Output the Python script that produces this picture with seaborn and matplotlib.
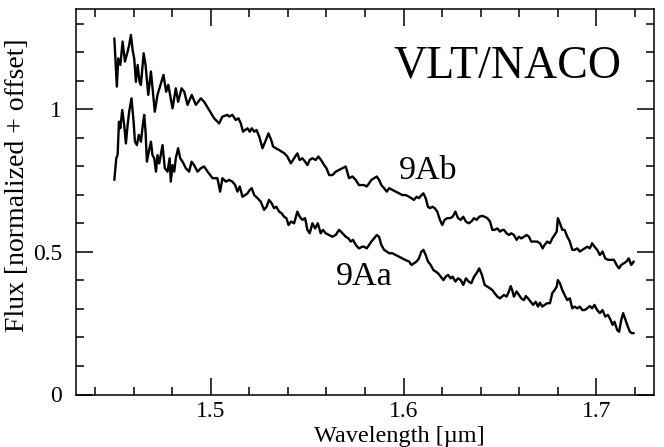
import numpy as np
import pandas as pd
import matplotlib
matplotlib.use("Agg")
import matplotlib.pyplot as plt
import seaborn as sns
from matplotlib.ticker import MultipleLocator

# spectra (wavelength in micron, flux normalized + offset)
wave_ab = [1.4499, 1.4512, 1.4519, 1.4530, 1.4542, 1.4554, 1.4568, 1.4576, 1.4585, 1.4595,
           1.4602, 1.4611, 1.4620, 1.4630, 1.4637, 1.4651, 1.4661, 1.4675, 1.4689, 1.4709,
           1.4723, 1.4754, 1.4768, 1.4779, 1.4801, 1.4818, 1.4830, 1.4848, 1.4862, 1.4879,
           1.4901, 1.4922, 1.4948, 1.4965, 1.4996, 1.5017, 1.5043, 1.5060, 1.5086, 1.5095,
           1.5112, 1.5129, 1.5143, 1.5155, 1.5167, 1.5178, 1.5190, 1.5202, 1.5212, 1.5225,
           1.5237, 1.5251, 1.5268, 1.5282, 1.5299, 1.5313, 1.5323, 1.5337, 1.5354, 1.5368,
           1.5382, 1.5397, 1.5415, 1.5432, 1.5449, 1.5461, 1.5475, 1.5489, 1.5501, 1.5513,
           1.5527, 1.5544, 1.5558, 1.5572, 1.5588, 1.5600, 1.5614, 1.5631, 1.5648, 1.5665,
           1.5683, 1.5700, 1.5717, 1.5735, 1.5752, 1.5769, 1.5786, 1.5795, 1.5809, 1.5821,
           1.5833, 1.5847, 1.5861, 1.5873, 1.5885, 1.5899, 1.5913, 1.5925, 1.5942, 1.5959,
           1.5977, 1.5994, 1.6011, 1.6029, 1.6041, 1.6054, 1.6068, 1.6080, 1.6093, 1.6103,
           1.6115, 1.6127, 1.6137, 1.6150, 1.6162, 1.6175, 1.6189, 1.6201, 1.6213, 1.6227,
           1.6241, 1.6255, 1.6269, 1.6283, 1.6297, 1.6310, 1.6324, 1.6338, 1.6352, 1.6366,
           1.6379, 1.6393, 1.6407, 1.6421, 1.6435, 1.6449, 1.6461, 1.6473, 1.6487, 1.6501,
           1.6514, 1.6521, 1.6535, 1.6547, 1.6559, 1.6573, 1.6587, 1.6599, 1.6611, 1.6625,
           1.6639, 1.6651, 1.6663, 1.6677, 1.6694, 1.6708, 1.6722, 1.6732, 1.6746, 1.6760,
           1.6772, 1.6784, 1.6795, 1.6801, 1.6812, 1.6824, 1.6836, 1.6850, 1.6863, 1.6876,
           1.6888, 1.6902, 1.6915, 1.6928, 1.6940, 1.6953, 1.6967, 1.6979, 1.6991, 1.7005,
           1.7019, 1.7033, 1.7047, 1.7061, 1.7075, 1.7092, 1.7106, 1.7118, 1.7130, 1.7144,
           1.7157, 1.7169, 1.7182, 1.7195]
flux_ab = [1.248, 1.079, 1.178, 1.155, 1.237, 1.167, 1.202, 1.225, 1.260, 1.202,
           1.178, 1.096, 1.155, 1.096, 1.085, 1.196, 1.155, 1.050, 1.132, 0.991,
           1.050, 1.120, 1.061, 1.085, 1.003, 1.073, 1.026, 1.073, 1.061, 1.015,
           1.050, 1.015, 1.038, 1.026, 0.991, 0.968, 0.950, 0.974, 0.980, 0.974,
           0.980, 0.962, 0.968, 0.951, 0.921, 0.927, 0.933, 0.921, 0.933, 0.921,
           0.927, 0.904, 0.863, 0.886, 0.915, 0.892, 0.869, 0.863, 0.857, 0.851,
           0.845, 0.834, 0.810, 0.828, 0.845, 0.822, 0.828, 0.816, 0.804, 0.822,
           0.828, 0.822, 0.834, 0.822, 0.804, 0.793, 0.769, 0.769, 0.781, 0.787,
           0.793, 0.799, 0.758, 0.764, 0.752, 0.734, 0.734, 0.734, 0.729, 0.740,
           0.752, 0.758, 0.764, 0.752, 0.734, 0.723, 0.711, 0.723, 0.717, 0.711,
           0.705, 0.699, 0.699, 0.693, 0.688, 0.682, 0.693, 0.688, 0.699, 0.705,
           0.688, 0.658, 0.653, 0.658, 0.653, 0.641, 0.612, 0.594, 0.612, 0.618,
           0.618, 0.623, 0.641, 0.618, 0.612, 0.623, 0.606, 0.600, 0.606, 0.618,
           0.612, 0.623, 0.626, 0.623, 0.618, 0.606, 0.577, 0.577, 0.582, 0.571,
           0.577, 0.577, 0.565, 0.559, 0.565, 0.559, 0.542, 0.553, 0.547, 0.553,
           0.559, 0.553, 0.536, 0.536, 0.536, 0.530, 0.512, 0.524, 0.536, 0.530,
           0.547, 0.559, 0.571, 0.618, 0.600, 0.577, 0.577, 0.553, 0.536, 0.507,
           0.507, 0.512, 0.501, 0.507, 0.512, 0.518, 0.512, 0.530, 0.518, 0.507,
           0.489, 0.501, 0.477, 0.472, 0.472, 0.472, 0.454, 0.442, 0.454, 0.460,
           0.466, 0.477, 0.454, 0.466]

wave_aa = [1.4499, 1.4509, 1.4516, 1.4523, 1.4530, 1.4540, 1.4550, 1.4559, 1.4568, 1.4576,
           1.4588, 1.4599, 1.4606, 1.4616, 1.4626, 1.4637, 1.4647, 1.4654, 1.4661, 1.4668,
           1.4678, 1.4689, 1.4697, 1.4706, 1.4715, 1.4723, 1.4732, 1.4749, 1.4761, 1.4775,
           1.4786, 1.4792, 1.4801, 1.4810, 1.4818, 1.4830, 1.4841, 1.4853, 1.4870, 1.4887,
           1.4900, 1.4913, 1.4931, 1.4948, 1.4965, 1.4983, 1.5009, 1.5034, 1.5048, 1.5060,
           1.5078, 1.5095, 1.5112, 1.5126, 1.5138, 1.5150, 1.5164, 1.5178, 1.5190, 1.5202,
           1.5212, 1.5225, 1.5242, 1.5259, 1.5276, 1.5289, 1.5302, 1.5316, 1.5328, 1.5340,
           1.5354, 1.5368, 1.5380, 1.5392, 1.5403, 1.5416, 1.5432, 1.5449, 1.5461, 1.5475,
           1.5489, 1.5501, 1.5513, 1.5527, 1.5541, 1.5555, 1.5570, 1.5582, 1.5596, 1.5614,
           1.5631, 1.5648, 1.5665, 1.5683, 1.5700, 1.5714, 1.5726, 1.5738, 1.5752, 1.5769,
           1.5786, 1.5795, 1.5809, 1.5821, 1.5833, 1.5847, 1.5861, 1.5873, 1.5885, 1.5899,
           1.5913, 1.5925, 1.5942, 1.5959, 1.5977, 1.5994, 1.6011, 1.6029, 1.6041, 1.6054,
           1.6068, 1.6080, 1.6093, 1.6103, 1.6115, 1.6127, 1.6141, 1.6155, 1.6167, 1.6179,
           1.6193, 1.6207, 1.6219, 1.6231, 1.6245, 1.6255, 1.6269, 1.6283, 1.6297, 1.6310,
           1.6324, 1.6338, 1.6352, 1.6366, 1.6379, 1.6393, 1.6407, 1.6421, 1.6435, 1.6449,
           1.6461, 1.6473, 1.6487, 1.6501, 1.6521, 1.6535, 1.6547, 1.6556, 1.6564, 1.6573,
           1.6587, 1.6599, 1.6611, 1.6625, 1.6635, 1.6646, 1.6660, 1.6673, 1.6686, 1.6698,
           1.6708, 1.6720, 1.6732, 1.6746, 1.6760, 1.6772, 1.6784, 1.6795, 1.6801, 1.6812,
           1.6824, 1.6836, 1.6850, 1.6863, 1.6876, 1.6888, 1.6902, 1.6915, 1.6928, 1.6940,
           1.6953, 1.6967, 1.6979, 1.6991, 1.7005, 1.7019, 1.7033, 1.7047, 1.7061, 1.7075,
           1.7085, 1.7095, 1.7109, 1.7119, 1.7130, 1.7140, 1.7152, 1.7164, 1.7175, 1.7185,
           1.7195]
flux_aa = [0.752, 0.828, 0.839, 0.956, 0.933, 0.997, 0.945, 0.880, 0.945, 0.991,
           1.038, 0.956, 0.886, 0.874, 0.910, 0.886, 0.945, 0.980, 0.921, 0.816,
           0.851, 0.886, 0.839, 0.828, 0.781, 0.839, 0.810, 0.874, 0.793, 0.781,
           0.828, 0.746, 0.804, 0.781, 0.828, 0.863, 0.828, 0.816, 0.793, 0.781,
           0.816, 0.804, 0.781, 0.793, 0.799, 0.781, 0.758, 0.758, 0.711, 0.758,
           0.746, 0.752, 0.746, 0.734, 0.711, 0.729, 0.693, 0.699, 0.705, 0.717,
           0.723, 0.699, 0.688, 0.676, 0.647, 0.658, 0.682, 0.670, 0.653, 0.658,
           0.641, 0.635, 0.623, 0.618, 0.594, 0.606, 0.600, 0.641, 0.623, 0.612,
           0.618, 0.577, 0.565, 0.600, 0.582, 0.600, 0.565, 0.577, 0.565, 0.559,
           0.553, 0.559, 0.577, 0.565, 0.553, 0.547, 0.536, 0.542, 0.524, 0.512,
           0.518, 0.518, 0.512, 0.524, 0.536, 0.547, 0.559, 0.553, 0.524, 0.507,
           0.501, 0.495, 0.495, 0.489, 0.483, 0.477, 0.471, 0.466, 0.454, 0.460,
           0.466, 0.477, 0.501, 0.507, 0.489, 0.466, 0.454, 0.436, 0.431, 0.425,
           0.413, 0.401, 0.413, 0.419, 0.407, 0.413, 0.396, 0.407, 0.401, 0.384,
           0.407, 0.396, 0.390, 0.413, 0.425, 0.442, 0.419, 0.384, 0.378, 0.372,
           0.366, 0.355, 0.343, 0.337, 0.349, 0.343, 0.361, 0.380, 0.366, 0.343,
           0.361, 0.349, 0.337, 0.331, 0.345, 0.337, 0.325, 0.314, 0.325, 0.308,
           0.322, 0.308, 0.314, 0.320, 0.320, 0.355, 0.366, 0.378, 0.401, 0.390,
           0.366, 0.349, 0.331, 0.337, 0.302, 0.308, 0.302, 0.308, 0.296, 0.296,
           0.302, 0.310, 0.302, 0.314, 0.296, 0.285, 0.296, 0.273, 0.279, 0.261,
           0.244, 0.255, 0.226, 0.220, 0.261, 0.285, 0.261, 0.238, 0.220, 0.215,
           0.215]

ytick_vals = [0, 0.5, 1]
ytick_labels = ["0", "0.5", "1"]
xtick_vals = [1.5, 1.6, 1.7]
xtick_labels = ["1.5", "1.6", "1.7"]

df_ab = pd.DataFrame({"wave": wave_ab, "flux": flux_ab})
df_aa = pd.DataFrame({"wave": wave_aa, "flux": flux_aa})

sns.set_style("ticks")
plt.rcParams["font.family"] = ["Liberation Serif", "DejaVu Serif"]
plt.rcParams["text.color"] = "black"
plt.rcParams["axes.labelcolor"] = "black"

fig = plt.figure(figsize=(6.64, 4.47), dpi=100)
ax = fig.add_axes([76 / 664, 1 - 394.5 / 447, (654 - 76) / 664, (394.5 - 9.3) / 447])

sns.lineplot(data=df_ab, x="wave", y="flux", ax=ax, color="black", lw=1.7, sort=False)
sns.lineplot(data=df_aa, x="wave", y="flux", ax=ax, color="black", lw=1.7, sort=False)

ax.set_xlim(1.43, 1.73)
ax.set_ylim(0, 1.35)
ax.set_xticks(xtick_vals)
ax.set_xticklabels(xtick_labels)
ax.set_yticks(ytick_vals)
ax.set_yticklabels(ytick_labels)
ax.xaxis.set_minor_locator(MultipleLocator(0.02))
ax.yaxis.set_minor_locator(MultipleLocator(0.1))
ax.tick_params(which="both", direction="in", top=True, right=True, width=1.1,
               labelsize=17, colors="black")
ax.tick_params(axis="x", pad=5)
ax.tick_params(axis="y", pad=10)
ax.tick_params(which="major", length=12)
ax.tick_params(which="minor", length=6)
for s in ax.spines.values():
    s.set_linewidth(1.1)
    s.set_color("black")

ax.set_xlabel("Wavelength [µm]", fontsize=17.5, color="black")
ax.set_ylabel("Flux [normalized + offset]", fontsize=20, color="black")
ax.xaxis.set_label_coords(0.56, -0.083)
ax.xaxis.label.set_va("top")
ax.yaxis.set_label_coords(-0.08, 0.544)

ax.text(1.713, 1.111, "VLT/NACO", fontsize=33, ha="right", va="baseline", color="black")
ax.text(1.5977, 0.754, "9Ab", fontsize=24.5, ha="left", va="baseline", color="black")
ax.text(1.5651, 0.384, "9Aa", fontsize=24.5, ha="left", va="baseline", color="black")

fig.savefig("out.png", dpi=100)
